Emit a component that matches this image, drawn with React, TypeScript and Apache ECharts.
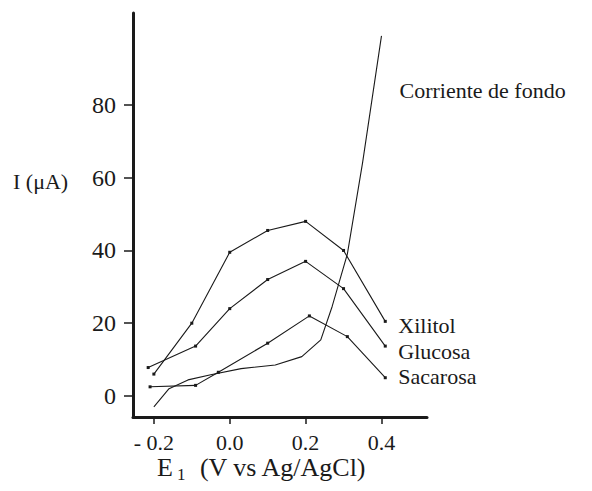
import React, { useEffect, useRef } from "react";
import * as echarts from "echarts";

// Potential E1 (V vs Ag/AgCl) and current I (µA) for each analyte
const xilitol: [number, number][] = [
  [-0.2, 6], [-0.1, 20], [0.0, 39.5], [0.1, 45.5], [0.2, 48], [0.3, 40], [0.41, 20.5],
];
const glucosa: [number, number][] = [
  [-0.215, 7.8], [-0.09, 13.7], [0.0, 24], [0.1, 32], [0.2, 37], [0.3, 29.5], [0.41, 13.7],
];
const sacarosa: [number, number][] = [
  [-0.21, 2.5], [-0.09, 2.9], [-0.03, 6.5], [0.1, 14.5], [0.21, 22], [0.31, 16.3], [0.41, 5],
];
const fondo: [number, number][] = [
  [-0.2, -3], [-0.16, 2], [-0.11, 4.4], [-0.05, 5.8], [0.03, 7.5], [0.12, 8.5],
  [0.19, 10.8], [0.24, 15.4], [0.27, 24.6], [0.31, 39], [0.35, 64], [0.4, 99],
];

const xTicks = [-0.2, 0.0, 0.2, 0.4];
const yTicks = [0, 20, 40, 60, 80];

const FONT = "'Liberation Serif', 'Times New Roman', serif";
const INK = "#1a1a1a";

function lineSeries(
  name: string,
  data: [number, number][],
  offset: [number, number],
  symbol: string,
) {
  return {
    type: "line",
    name,
    data,
    symbol,
    symbolSize: 3,
    showSymbol: symbol !== "none",
    itemStyle: { color: INK },
    lineStyle: { color: INK, width: 1.1 },
    endLabel: {
      show: true,
      formatter: name,
      fontFamily: FONT,
      fontSize: 22,
      color: INK,
      align: "left",
      verticalAlign: "middle",
      offset,
    },
  };
}

export default function App() {
  const ref = useRef<HTMLDivElement>(null);

  useEffect(() => {
    if (!ref.current) return;
    const chart = echarts.init(ref.current, null, { renderer: "svg" });
    chart.setOption({
      animation: false,
      backgroundColor: "#ffffff",
      grid: { left: 133, top: 13, right: 165, bottom: 74, containLabel: false },
      xAxis: {
        type: "value",
        min: -0.255,
        max: 0.52,
        splitLine: { show: false },
        axisLine: { show: true, onZero: false, lineStyle: { color: INK, width: 3 } },
        axisTick: {
          show: true,
          length: 7,
          customValues: xTicks,
          lineStyle: { color: INK, width: 1.5 },
        },
        axisLabel: {
          customValues: xTicks,
          margin: 14,
          fontFamily: FONT,
          fontSize: 22,
          color: INK,
          formatter: (v: number) => (v < 0 ? "- " + Math.abs(v).toFixed(1) : v.toFixed(1)),
        },
      },
      yAxis: {
        type: "value",
        min: -5.8,
        max: 105.3,
        splitLine: { show: false },
        axisLine: { show: true, onZero: false, lineStyle: { color: INK, width: 3 } },
        axisTick: {
          show: true,
          length: 9,
          customValues: yTicks,
          lineStyle: { color: INK, width: 1.5 },
        },
        axisLabel: {
          customValues: yTicks,
          margin: 17,
          fontFamily: FONT,
          fontSize: 24,
          color: INK,
        },
      },
      graphic: [
        {
          type: "text",
          left: 13,
          top: 170,
          style: {
            text: "I (μA)",
            fontFamily: FONT,
            fontSize: 22,
            fill: INK,
          },
        },
        {
          type: "text",
          left: 157,
          top: 454,
          style: {
            text: "E{sub|1} (V vs Ag/AgCl)",
            fontFamily: FONT,
            fontSize: 26,
            fill: INK,
            rich: {
              sub: { fontFamily: FONT, fontSize: 17, padding: [15, 8, 0, 4], fill: INK },
            },
          },
        },
      ],
      series: [
        lineSeries("Xilitol", xilitol, [5, 4], "rect"),
        lineSeries("Glucosa", glucosa, [5, 5], "rect"),
        lineSeries("Sacarosa", sacarosa, [5, -1], "rect"),
        lineSeries("Corriente de fondo", fondo, [10, 55], "none"),
      ],
    });
    return () => chart.dispose();
  }, []);

  return (
    <div
      ref={ref}
      style={{ position: "absolute", left: 0, top: 0, width: 592, height: 491 }}
    />
  );
}
